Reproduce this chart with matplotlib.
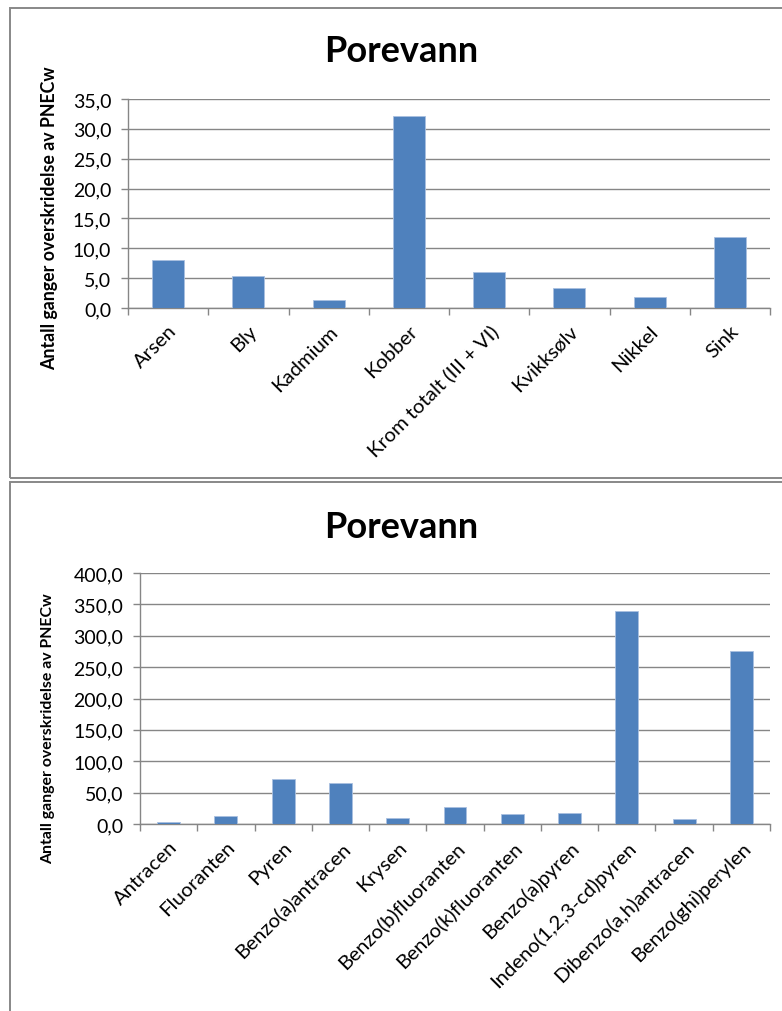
import numpy as np
import matplotlib
matplotlib.use("Agg")
import matplotlib.pyplot as plt
from matplotlib.patches import Rectangle

plt.rcParams['font.family'] = ['Lato', 'DejaVu Sans']

# metaller i porevann
metaller = ["Arsen", "Bly", "Kadmium", "Kobber", "Krom totalt (III + VI)",
            "Kvikksølv", "Nikkel", "Sink"]
metall_verdier = [8.0, 5.4, 1.4, 32.2, 6.1, 3.3, 1.8, 11.9]

# PAH i porevann
pah = ["Antracen", "Fluoranten", "Pyren", "Benzo(a)antracen", "Krysen",
       "Benzo(b)fluoranten", "Benzo(k)fluoranten", "Benzo(a)pyren",
       "Indeno(1,2,3-cd)pyren", "Dibenzo(a,h)antracen", "Benzo(ghi)perylen"]
pah_verdier = [2.5, 12.3, 72.5, 66.0, 9.0, 26.5, 16.0, 17.5, 339.0, 7.5, 275.0]

blaa = "#4F81BD"
graa = "#868686"
ylabel = "Antall ganger overskridelse av PNECw"

W, H = 782, 1012
fig = plt.figure(figsize=(W / 100, H / 100), dpi=100)


def px(x0, y0, x1, y1):
    # pikselboks -> figurkoordinater
    return [x0 / W, 1 - y1 / H, (x1 - x0) / W, (y1 - y0) / H]


def tegn(ax, navn, verdier, ymax, steg, labsize):
    n = len(navn)
    x = np.arange(n)
    ax.bar(x, verdier, width=0.4, color=blaa, edgecolor="#a9c0e0",
           linewidth=0.6, zorder=3)
    ax.set_xlim(-0.5, n - 0.5)
    ax.set_ylim(0, ymax)
    yt = np.arange(0, ymax + steg / 2, steg)
    ax.set_yticks(yt)
    ax.set_yticklabels([f"{v:.1f}".replace(".", ",") for v in yt],
                       fontsize=14)
    ax.yaxis.grid(True, color=graa, linewidth=1.0, zorder=0)
    ax.set_xticks(x)
    ax.set_xticklabels(navn, rotation=45, ha="right",
                       rotation_mode="anchor", fontsize=labsize)
    ax.set_xticks(np.arange(-0.5, n), minor=True)
    ax.tick_params(axis="x", which="major", length=0, pad=10)
    ax.tick_params(axis="x", which="minor", length=5, color=graa,
                   width=1.0, direction="out")
    ax.tick_params(axis="y", length=5, color=graa, width=1.0, pad=7)
    for s in ["top", "right"]:
        ax.spines[s].set_visible(False)
    for s in ["left", "bottom"]:
        ax.spines[s].set_color(graa)
        ax.spines[s].set_linewidth(1.0)
    ax.set_axisbelow(True)


ax1 = fig.add_axes(px(128, 100, 770, 309))
tegn(ax1, metaller, metall_verdier, 35, 5, 14.6)

ax2 = fig.add_axes(px(140, 574, 770, 825))
tegn(ax2, pah, pah_verdier, 400, 50, 14.6)

fig.text(401 / W, 1 - 52 / H, "Porevann", fontsize=26, fontweight="bold",
         ha="center", va="center")
fig.text(401 / W, 1 - 527 / H, "Porevann", fontsize=26, fontweight="bold",
         ha="center", va="center")
fig.text(50 / W, 1 - 218 / H, ylabel, rotation=90, fontsize=12.8,
         fontweight="bold", ha="center", va="center")
fig.text(48 / W, 1 - 729 / H, ylabel, rotation=90, fontsize=11.4,
         fontweight="bold", ha="center", va="center")

# rammer rundt de to diagrammene
fig.add_artist(Rectangle((10 / W, 1 - 479 / H), 1.0, 470 / H,
                         transform=fig.transFigure, fill=False,
                         edgecolor="#888888", linewidth=1.4))
fig.add_artist(Rectangle((10 / W, -0.05), 1.0, 0.05 + 1 - 483 / H,
                         transform=fig.transFigure, fill=False,
                         edgecolor="#888888", linewidth=1.4))

fig.savefig("out.png", dpi=100)
